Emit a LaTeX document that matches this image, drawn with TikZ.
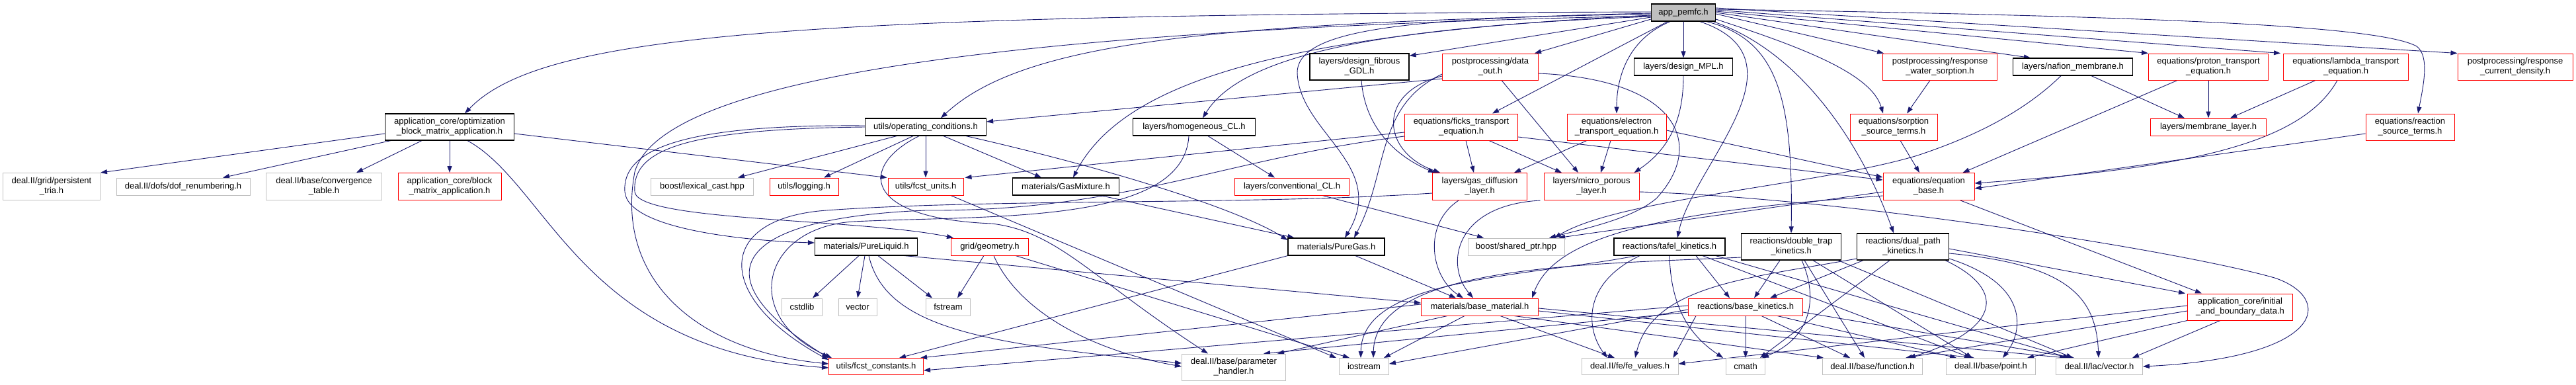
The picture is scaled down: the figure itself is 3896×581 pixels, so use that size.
\documentclass[tikz,border=0pt]{standalone}
\usepackage{fontspec}
\setmainfont{Liberation Sans}
\usetikzlibrary{arrows.meta}
\definecolor{edgec}{HTML}{191970}
\definecolor{redb}{HTML}{FF0000}
\definecolor{grayb}{HTML}{BFBFBF}
\definecolor{appfill}{HTML}{BFBFBF}
\pgfdeclarelayer{bglayer}
\pgfdeclarelayer{edgelayer}
\pgfsetlayers{bglayer,edgelayer,main}
\begin{document}
\begin{tikzpicture}[x=1pt,y=-1pt,
  font=\fontsize{13}{15}\selectfont,
  box/.style={draw, line width=1pt, fill=white, inner sep=0pt, align=center},
  nb/.style={box, draw=black, line width=1.2pt},
  nr/.style={box, draw=redb},
  ng/.style={box, draw=grayb},
  napp/.style={box, draw=black, line width=1.2pt, fill=appfill},
  wh/.style 2 args={minimum width=#1pt, minimum height=#2pt},
  e/.style={draw=edgec, line width=0.9pt, -{Triangle[length=10pt,width=7pt]}}
]
\begin{pgfonlayer}{bglayer}
\fill[white] (0,0) rectangle (3896,581);
\end{pgfonlayer}
\useasboundingbox (0,0) rectangle (3896,581);

% row 0
\node[napp, wh={97}{26}] (A) at (2546,19) {app\_pemfc.h};
% row 1
\node[nb, wh={150}{40}] (dGDL) at (2056,101) {layers/design\_fibrous\\\_GDL.h};
\node[nr, wh={145}{40}] (dout) at (2254,101) {postprocessing/data\\\_out.h};
\node[nb, wh={149}{26}] (dMPL) at (2546,101) {layers/design\_MPL.h};
\node[nr, wh={173}{40}] (rws) at (2934,101) {postprocessing/response\\\_water\_sorption.h};
\node[nb, wh={181}{26}] (naf) at (3135,101) {layers/nafion\_membrane.h};
\node[nr, wh={181}{40}] (prot) at (3340,101) {equations/proton\_transport\\\_equation.h};
\node[nr, wh={189}{40}] (lamb) at (3548,101) {equations/lambda\_transport\\\_equation.h};
\node[nr, wh={174}{40}] (rcd) at (3804,101) {postprocessing/response\\\_current\_density.h};
% row 2
\node[nb, wh={195}{40}] (opt) at (680,192) {application\_core/optimization\\\_block\_matrix\_application.h};
\node[nb, wh={183}{26}] (oc) at (1400,192) {utils/operating\_conditions.h};
\node[nb, wh={185}{26}] (hcl) at (1806,192) {layers/homogeneous\_CL.h};
\node[nr, wh={171}{40}] (ficks) at (2210,192) {equations/ficks\_transport\\\_equation.h};
\node[nr, wh={150}{40}] (elec) at (2445,192) {equations/electron\\\_transport\_equation.h};
\node[nr, wh={132}{40}] (sst) at (2864,192) {equations/sorption\\\_source\_terms.h};
\node[nr, wh={175}{26}] (mem) at (3340,192) {layers/membrane\_layer.h};
\node[nr, wh={134}{40}] (rst) at (3645,192) {equations/reaction\\\_source\_terms.h};
% row 3
\node[ng, wh={147}{41}] (ptria) at (78,282) {deal.II/grid/persistent\\\_tria.h};
\node[ng, wh={202}{26}] (dofr) at (277,282) {deal.II/dofs/dof\_renumbering.h};
\node[ng, wh={175}{41}] (conv) at (490,282) {deal.II/base/convergence\\\_table.h};
\node[nr, wh={156}{41}] (bma) at (680,282) {application\_core/block\\\_matrix\_application.h};
\node[ng, wh={155}{26}] (lex) at (1062,282) {boost/lexical\_cast.hpp};
\node[nr, wh={104}{26}] (log) at (1216,282) {utils/logging.h};
\node[nr, wh={114}{26}] (units) at (1400,282) {utils/fcst\_units.h};
\node[nb, wh={161}{26}] (gmix) at (1612,282) {materials/GasMixture.h};
\node[nr, wh={173}{26}] (ccl) at (1954,282) {layers/conventional\_CL.h};
\node[nr, wh={143}{41}] (gdl) at (2238,282) {layers/gas\_diffusion\\\_layer.h};
\node[nr, wh={144}{41}] (mpl) at (2407,282) {layers/micro\_porous\\\_layer.h};
\node[nr, wh={138}{41}] (eqb) at (2917,282) {equations/equation\\\_base.h};
% row 4
\node[nb, wh={155}{26}] (pliq) at (1310,373) {materials/PureLiquid.h};
\node[nr, wh={117}{26}] (geom) at (1497,373) {grid/geometry.h};
\node[nb, wh={146}{26}] (pgas) at (2021,373) {materials/PureGas.h};
\node[ng, wh={146}{26}] (sptr) at (2293,373) {boost/shared\_ptr.hpp};
\node[nb, wh={168}{26}] (tafel) at (2525,373) {reactions/tafel\_kinetics.h};
\node[nb, wh={151}{40}] (dtrap) at (2709,373) {reactions/double\_trap\\\_kinetics.h};
\node[nb, wh={139}{40}] (dpath) at (2878,373) {reactions/dual\_path\\\_kinetics.h};
% row 5
\node[ng, wh={61}{26}] (cstd) at (1213,464) {cstdlib};
\node[ng, wh={58}{26}] (vec) at (1297,464) {vector};
\node[ng, wh={67}{26}] (fstr) at (1434,464) {fstream};
\node[nr, wh={177}{26}] (bmat) at (2238,464) {materials/base\_material.h};
\node[nr, wh={173}{26}] (bkin) at (2640,464) {reactions/base\_kinetics.h};
\node[nr, wh={159}{40}] (ibd) at (3388,464) {application\_core/initial\\\_and\_boundary\_data.h};
% row 6
\node[nr, wh={143}{25}] (fconst) at (1325,554) {utils/fcst\_constants.h};
\node[ng, wh={157}{40}] (ph) at (1866,555) {deal.II/base/parameter\\\_handler.h};
\node[ng, wh={75}{25}] (ios) at (2063,554) {iostream};
\node[ng, wh={146}{25}] (fev) at (2465,554) {deal.II/fe/fe\_values.h};
\node[ng, wh={59}{25}] (cmath) at (2640,554) {cmath};
\node[ng, wh={151}{25}] (func) at (2832,554) {deal.II/base/function.h};
\node[ng, wh={135}{25}] (point) at (3011,554) {deal.II/base/point.h};
\node[ng, wh={131}{25}] (lvec) at (3175,554) {deal.II/lac/vector.h};

\begin{pgfonlayer}{edgelayer}
% from app_pemfc
\draw[e] ([yshift=1pt]A.west) .. controls (1200,22) and (820,50) .. ([xshift=23pt]opt.north);
\draw[e] ([yshift=-2pt]A.west) .. controls (1850,35) and (1550,60) .. ([xshift=23pt]oc.north);
\draw[e] ([yshift=-6pt]A.west) .. controls (2100,40) and (1880,80) .. ([xshift=13pt]hcl.north);
\draw[e] ([yshift=-4pt]A.west) .. controls (1950,50) and (1700,120) .. ([xshift=11pt]gmix.north);
\draw[e] ([yshift=-1pt]A.west) .. controls (2150,28) and (1962,40) .. (1962,110) .. controls (1965,200) and (2100,250) .. ([xshift=13pt]pgas.north);
\draw[e] ([yshift=-5pt]A.west) .. controls (1500,45) and (1000,120) .. (960,260) .. controls (930,420) and (1050,530) .. ([yshift=4pt]fconst.west);
\draw[e] ([yshift=-7pt]A.west) -- ([yshift=-4pt]dGDL.north east);
\draw[e] ([yshift=-10pt]A.west) -- ([xshift=-6pt]dout.north east);
\draw[e] (A.south) -- (dMPL.north);
\draw[e] ([xshift=-24pt]A.south) -- ([xshift=47pt]ficks.north);
\draw[e] ([xshift=-20pt]A.south) .. controls (2460,60) and (2445,120) .. (elec.north);
\draw[e] ([yshift=-2pt]A.east) -- ([xshift=2pt]rws.north west);
\draw[e] ([yshift=-10pt]A.east) .. controls (2720,70) and (2830,110) .. ([xshift=-16pt]sst.north);
\draw[e] (A.east) -- ([xshift=27pt]naf.north west);
\draw[e] ([yshift=2pt]A.east) -- (prot.north west);
\draw[e] ([yshift=4pt]A.east) -- ([xshift=-4pt]lamb.north west);
\draw[e] ([yshift=7pt]A.east) -- (rcd.north west);
\draw[e] ([yshift=5pt]A.east) .. controls (3300,25) and (3600,40) .. (3655,70) .. controls (3675,85) and (3665,130) .. ([xshift=12pt]rst.north);
\draw[e] ([xshift=25pt]A.south) .. controls (2740,90) and (2560,250) .. ([xshift=12pt]tafel.north);
\draw[e] ([xshift=35pt]A.south) .. controls (2690,60) and (2712,150) .. (dtrap.north);
\draw[e] ([xshift=45pt]A.south) .. controls (2730,80) and (2820,230) .. ([xshift=-14pt]dpath.north);
% row 1
\draw[e] ([xshift=3pt]dGDL.south) .. controls (2065,200) and (2120,240) .. ([xshift=4pt]gdl.north west);
\draw[e] ([yshift=-18pt]dout.west) -- ([yshift=8pt]oc.east);
\draw[e] ([yshift=-14pt]dout.west) .. controls (2080,140) and (2090,230) .. ([xshift=12pt]gdl.north west);
\draw[e] ([yshift=-11pt]dout.west) .. controls (2080,160) and (2100,260) .. ([xshift=27pt]pgas.north);
\draw[e] ([xshift=17pt]dout.south) -- ([xshift=-20pt]mpl.north);
\draw[e] ([yshift=-10pt]dout.east) .. controls (2540,120) and (2580,220) .. (2505,300) .. controls (2470,330) and (2400,345) .. ([xshift=50pt]sptr.north);
\draw[e] (dMPL.south) .. controls (2546,180) and (2525,225) .. ([xshift=-8pt]mpl.north east);
\draw[e] ([xshift=-15pt]rws.south) -- ([xshift=20pt]sst.north);
\draw[e] ([xshift=28pt]naf.south) -- ([xshift=-36pt]mem.north);
\draw[e] ([xshift=-18pt]naf.south) .. controls (3050,180) and (2960,215) .. (2900,235) .. controls (2750,280) and (2450,300) .. ([xshift=58pt]sptr.north);
\draw[e] (prot.south) -- (mem.north);
\draw[e] ([xshift=-47pt]prot.south) -- ([xshift=-18pt]eqb.north east);
\draw[e] ([xshift=-46pt]lamb.south) -- ([xshift=33pt]mem.north);
\draw[e] ([xshift=-13pt]lamb.south) .. controls (3480,220) and (3300,255) .. ([yshift=5pt]eqb.east);
\draw[e] ([yshift=-10pt]rst.west) -- ([yshift=-3pt]eqb.east);
% row 2
\draw[e] (opt.south) -- (bma.north);
\draw[e] ([yshift=-10pt]opt.west) -- (ptria.north east);
\draw[e] ([xshift=9pt]opt.south west) -- ([xshift=60pt]dofr.north);
\draw[e] ([xshift=-42pt]opt.south) -- ([xshift=49pt]conv.north);
\draw[e] ([yshift=-10pt]opt.east) -- ([xshift=-1pt]units.north west);
\draw[e] ([xshift=27pt]opt.south) .. controls (830,280) and (880,530) .. ([yshift=-2pt]fconst.west);
\draw[e] ([xshift=-44pt]oc.south) -- ([xshift=54pt]lex.north);
\draw[e] ([xshift=-19pt]oc.south) -- ([xshift=30pt]log.north);
\draw[e] (oc.south) -- (units.north);
\draw[e] ([xshift=27pt]oc.south) -- ([xshift=-37pt]gmix.north);
\draw[e] ([yshift=2pt]oc.west) .. controls (1050,188) and (940,220) .. (945,290) .. controls (950,350) and (1150,365) .. ([yshift=6pt]pliq.west);
\draw[e] (oc.west) .. controls (1040,195) and (955,225) .. (960,290) .. controls (965,335) and (1300,330) .. ([xshift=4pt]geom.north west);
\draw[e] ([xshift=-10pt]oc.south) .. controls (1300,250) and (1300,330) .. (1500,338) .. controls (1600,350) and (1650,420) .. ([xshift=-39pt]ph.north);
\draw[e] ([xshift=61pt]oc.south) .. controls (1700,260) and (1880,320) .. ([yshift=10pt]pgas.west);
\draw[e] ([xshift=21pt]hcl.south) -- ([xshift=-26pt]ccl.north);
\draw[e] ([xshift=-8pt]hcl.south) .. controls (1790,340) and (1500,325) .. (1290,335) .. controls (1150,345) and (1120,480) .. ([xshift=5pt]fconst.north west);
\draw[e] ([yshift=-8pt]ficks.west) -- ([xshift=2pt]units.north east);
\draw[e] ([yshift=-14pt]ficks.west) .. controls (1850,240) and (1700,320) .. (1400,318) .. controls (1100,330) and (1060,420) .. (fconst.north west);
\draw[e] ([xshift=7pt]ficks.south) -- ([xshift=-9pt]gdl.north);
\draw[e] ([xshift=42pt]ficks.south) -- ([xshift=-45pt]mpl.north);
\draw[e] ([yshift=-15pt]ficks.east) -- ([yshift=10pt]eqb.west);
\draw[e] ([xshift=-45pt]elec.south) -- ([xshift=52pt]gdl.north);
\draw[e] ([xshift=-9pt]elec.south) -- ([xshift=14pt]mpl.north);
\draw[e] ([yshift=-5pt]elec.east) -- ([yshift=14pt]eqb.west);
\draw[e] ([xshift=10pt]sst.south) -- ([xshift=-14pt]eqb.north);
% row 3
\draw[e] ([xshift=38pt]units.south) -- ([xshift=-4pt]ios.north west);
\draw[e] ([xshift=53pt]gmix.south) -- ([xshift=10pt]pgas.north west);
\draw[e] ([xshift=46pt]ccl.south) -- ([xshift=-49pt]sptr.north);
\draw[e] ([xshift=-32pt]gdl.south) .. controls (2150,340) and (2165,420) .. ([xshift=-25pt]bmat.north);
\draw[e] ([yshift=-10pt]gdl.west) .. controls (1900,310) and (1500,300) .. (1250,318) .. controls (1080,330) and (1080,450) .. ([yshift=-3pt]fconst.north west);
\draw[e] ([xshift=-5pt]mpl.south west) .. controls (2200,310) and (2185,400) .. ([xshift=-10pt]bmat.north);
\draw[e] ([yshift=-8pt]mpl.east) .. controls (2800,300) and (3300,380) .. (3440,420) .. controls (3530,450) and (3520,540) .. (lvec.east);
\draw[e] ([yshift=-8pt]eqb.west) -- ([xshift=64pt]sptr.north);
\draw[e] ([xshift=48pt]eqb.south) -- ([xshift=-58pt]ibd.north);
\draw[e] ([yshift=-14pt]eqb.west) .. controls (2500,320) and (2350,360) .. ([xshift=-10pt]bmat.north east);
% row 4
\draw[e] ([xshift=-11pt]pliq.south) -- ([xshift=16pt]cstd.north);
\draw[e] ([xshift=-2pt]pliq.south) -- (vec.north);
\draw[e] ([xshift=18pt]pliq.south) -- ([xshift=-24pt]fstr.north);
\draw[e] ([xshift=4pt]pliq.south) .. controls (1340,500) and (1500,520) .. ([yshift=6pt]ph.west);
\draw[e] ([xshift=-20pt]pliq.south east) -- ([yshift=6pt]bmat.west);
\draw[e] ([xshift=-9pt]geom.south) -- ([xshift=14pt]fstr.north);
\draw[e] ([xshift=6pt]geom.south) .. controls (1540,470) and (1650,530) .. ([yshift=1pt]ph.west);
\draw[e] ([xshift=-20pt]geom.south east) -- ([xshift=-22pt]ios.north);
\draw[e] ([xshift=29pt]pgas.south) -- ([xshift=-36pt]bmat.north);
\draw[e] (pgas.south west) -- ([xshift=35pt]fconst.north);
\draw[e] ([xshift=40pt]tafel.south) -- ([xshift=-24pt]bkin.north);
\draw[e] ([xshift=-50pt]tafel.south) .. controls (2300,420) and (2060,420) .. ([xshift=-5pt]ios.north);
\draw[e] ([xshift=-45pt]tafel.south) .. controls (2390,430) and (2400,500) .. ([xshift=-34pt]fev.north);
\draw[e] (tafel.south) .. controls (2527,470) and (2560,510) .. ([xshift=-4pt]cmath.north west);
\draw[e] ([xshift=50pt]tafel.south) -- ([xshift=-30pt]point.north);
\draw[e] ([xshift=70pt]tafel.south) -- ([xshift=-45pt]lvec.north);
\draw[e] ([xshift=-17pt]dtrap.south) -- ([xshift=13pt]bkin.north);
\draw[e] ([xshift=16pt]dtrap.south) .. controls (2750,450) and (2740,510) .. ([xshift=25pt]cmath.north);
\draw[e] ([xshift=20pt]dtrap.south) -- ([xshift=-12pt]func.north);
\draw[e] ([xshift=33pt]dtrap.south) -- ([xshift=-28pt]point.north);
\draw[e] ([xshift=-5pt]dtrap.south east) -- ([xshift=-40pt]lvec.north);
\draw[e] ([yshift=-16pt]dtrap.west) .. controls (2400,400) and (2080,400) .. ([xshift=14pt]ios.north);
\draw[e] ([xshift=-60pt]dpath.south) -- ([xshift=37pt]bkin.north);
\draw[e] ([xshift=-20pt]dpath.south) -- ([xshift=22pt]cmath.north);
\draw[e] ([xshift=-6pt]dpath.south east) .. controls (3040,440) and (3020,500) .. ([xshift=55pt]func.north);
\draw[e] ([yshift=-18pt]dpath.east) .. controls (3070,430) and (3060,500) .. ([xshift=18pt]point.north);
\draw[e] ([yshift=-10pt]dpath.east) .. controls (3130,400) and (3170,450) .. ([xshift=-1pt]lvec.north);
\draw[e] ([yshift=-3pt]dpath.east) -- ([xshift=-3pt]ibd.north west);
\draw[e] ([yshift=-18pt]dpath.west) .. controls (2650,420) and (2500,430) .. ([xshift=8pt]fev.north);
% row 5
\draw[e] ([xshift=-23pt]bmat.south) -- ([xshift=30pt]ios.north);
\draw[e] ([xshift=31pt]bmat.south) -- ([xshift=-23pt]fev.north);
\draw[e] ([xshift=-49pt]bmat.south) -- ([xshift=66pt]ph.north);
\draw[e] ([xshift=-37pt]bmat.south east) -- ([xshift=2pt]func.north west);
\draw[e] ([yshift=-6pt]bmat.east) -- ([xshift=-25pt]point.north);
\draw[e] ([yshift=-2pt]bmat.east) -- ([xshift=-50pt]lvec.north);
\draw[e] ([yshift=4pt]bmat.west) -- ([xshift=-5pt]fconst.north east);
\draw[e] (bkin.south) -- (cmath.north);
\draw[e] ([xshift=24pt]bkin.south) -- ([xshift=-34pt]func.north);
\draw[e] ([xshift=48pt]bkin.south) -- ([xshift=-52pt]point.north);
\draw[e] ([yshift=-8pt]bkin.east) -- ([xshift=-38pt]lvec.north);
\draw[e] ([xshift=12pt]bkin.south west) -- ([xshift=-8pt]fev.north east);
\draw[e] ([yshift=-4pt]bkin.west) -- ([yshift=4pt]ios.east);
\draw[e] ([yshift=-8pt]bkin.west) -- ([xshift=45pt]ph.north);
\draw[e] ([yshift=2pt]bkin.west) -- ([yshift=-6pt]fconst.east);
\draw[e] ([yshift=-6pt]ibd.west) -- ([xshift=50pt]func.north);
\draw[e] (ibd.south west) -- ([xshift=55pt]point.north);
\draw[e] ([xshift=-30pt]ibd.south) -- ([xshift=50pt]lvec.north);
\draw[e] ([yshift=2pt]ibd.west) -- ([yshift=4pt]fev.east);
\end{pgfonlayer}
\end{tikzpicture}
\end{document}
